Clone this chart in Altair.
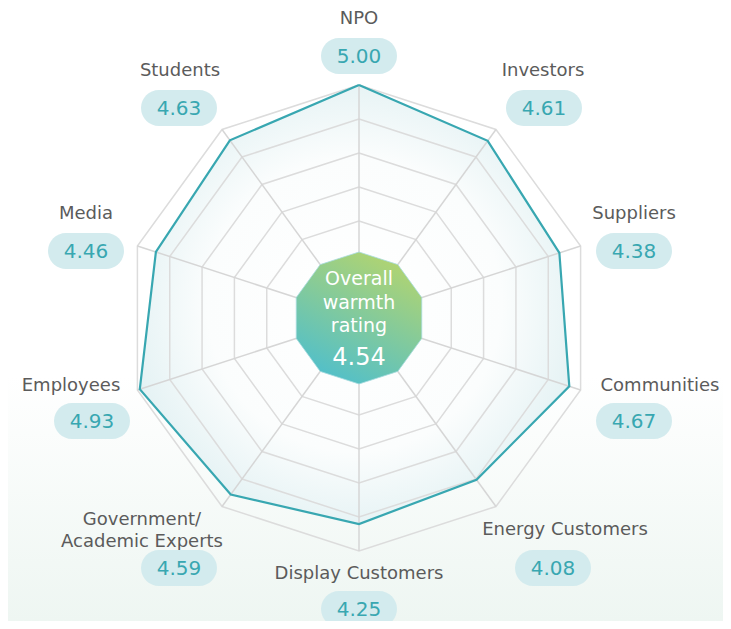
import numpy as np
import pandas as pd
import altair as alt

# ---------------- data ----------------
categories = ["NPO", "Investors", "Suppliers", "Communities", "Energy Customers",
              "Display Customers", "Government/\nAcademic Experts", "Employees",
              "Media", "Students"]
values = [5.00, 4.61, 4.38, 4.67, 4.08, 4.25, 4.59, 4.93, 4.46, 4.63]
overall_rating = 4.54
center_words = ["Overall", "warmth", "rating"]

# ---------------- layout ----------------
W, H = 715, 613
CX, CY = 351, 310
R_OUT = 233          # radius of the outer ring (value 5)
R_IN = 63            # radius of the centre decagon
K = 36               # pixels per rating unit near the rim
N_RINGS = 5
# label block offsets from the centre (name centre, badge centre)
NAME_OFF = [(0, -300), (184, -248), (275, -105), (301, 67), (206, 211),
            (0, 255), (-217, 201), (-288, 67), (-273, -105), (-179, -248)]
BADGE_OFF = [(0, -262), (185, -210), (275, -67), (275, 103), (194, 250),
             (0, 291), (-180, 250), (-267, 103), (-273, -67), (-180, -210)]
BADGE_W, BADGE_H = 76, 36

TEAL = "#38a7b1"
NAME_COL = "#5b5b5b"
FONT = "DejaVu Sans"

n = len(categories)
ang = np.arange(n) * 2 * np.pi / n


def polygon(radii, key):
    idx = list(range(n)) + [0]
    return pd.DataFrame({
        "x": [CX + radii[i] * np.sin(ang[i]) for i in idx],
        "y": [CY - radii[i] * np.cos(ang[i]) for i in idx],
        "order": list(range(n + 1)),
        "key": key,
    })


xs = alt.Scale(domain=[0, W], nice=False, zero=False)
ys = alt.Scale(domain=[0, H], nice=False, zero=False, reverse=True)
X = lambda f="x": alt.X(f"{f}:Q", scale=xs, axis=None)
Y = lambda f="y": alt.Y(f"{f}:Q", scale=ys, axis=None)

# background
bg_df = pd.DataFrame({"x": [0], "x2": [W], "y": [0], "y2": [H]})
bg = alt.Chart(bg_df).mark_rect(fill={
    "gradient": "linear", "x1": 0, "y1": 0, "x2": 0, "y2": 1,
    "stops": [{"offset": 0, "color": "#ffffff"},
              {"offset": 0.6, "color": "#ffffff"},
              {"offset": 1, "color": "#eef6f2"}]}).encode(
    x=X(), x2="x2:Q", y=Y(), y2="y2:Q")

# data polygon
data_r = [R_OUT - (5 - v) * K for v in values]
data_df = polygon(data_r, "data")
data_fill = alt.Chart(data_df).mark_line(
    fill={"gradient": "radial", "x1": 0.5, "y1": 0.5, "r1": 0,
          "x2": 0.5, "y2": 0.5, "r2": 0.56,
          "stops": [{"offset": 0, "color": "#ffffff"},
                    {"offset": 0.6, "color": "#fbfdfd"},
                    {"offset": 1, "color": "#e0f0f2"}]},
    strokeOpacity=0).encode(x=X(), y=Y(), order="order:Q")

# rings
ring_df = pd.concat([polygon([R_IN + (R_OUT - R_IN) * (i + 1) / N_RINGS] * n, f"r{i}")
                     for i in range(N_RINGS)])
rings = alt.Chart(ring_df).mark_line(color="#dcdcdc", strokeWidth=1.5).encode(
    x=X(), y=Y(), order="order:Q", detail="key:N")

# spokes
spoke_df = pd.DataFrame({
    "x": CX + R_IN * np.sin(ang), "y": CY - R_IN * np.cos(ang),
    "x2": CX + R_OUT * np.sin(ang), "y2": CY - R_OUT * np.cos(ang)})
spokes = alt.Chart(spoke_df).mark_rule(color="#d6d6d6", strokeWidth=1.5).encode(
    x=X(), y=Y(), x2="x2:Q", y2="y2:Q")

data_line = alt.Chart(data_df).mark_line(color=TEAL, strokeWidth=2.2).encode(
    x=X(), y=Y(), order="order:Q")

# centre decagon
center_df = polygon([R_IN + 3] * n, "c")
center = alt.Chart(center_df).mark_line(
    fill={"gradient": "linear", "x1": 0.8, "y1": 0.0, "x2": 0.3, "y2": 1.0,
          "stops": [{"offset": 0, "color": "#b6d56c"},
                    {"offset": 1, "color": "#50bfcb"}]},
    stroke="#a8dce0", strokeWidth=0.8).encode(x=X(), y=Y(), order="order:Q")

ct_df = pd.DataFrame({"t": center_words, "x": [CX] * 3,
                      "y": [CY - 33, CY - 9, CY + 14]})
center_text = alt.Chart(ct_df).mark_text(
    font=FONT, fontSize=19, color="white", baseline="alphabetic").encode(
    x=X(), y=Y(), text="t:N")
cv_df = pd.DataFrame({"t": [f"{overall_rating:.2f}"], "x": [CX], "y": [CY + 47]})
center_val = alt.Chart(cv_df).mark_text(
    font=FONT, fontSize=24, color="white", baseline="alphabetic").encode(
    x=X(), y=Y(), text="t:N")

# labels
lab_df = pd.DataFrame({
    "name": categories,
    "val": [f"{v:.2f}" for v in values],
    "nx": [CX + o[0] for o in NAME_OFF], "ny": [CY + o[1] + 1 for o in NAME_OFF],
    "bx": [CX + o[0] for o in BADGE_OFF], "by": [CY + o[1] for o in BADGE_OFF],
})
lab_df["bx1"] = lab_df["bx"] - BADGE_W / 2
lab_df["bx2"] = lab_df["bx"] + BADGE_W / 2
lab_df["by1"] = lab_df["by"] - BADGE_H / 2
lab_df["by2"] = lab_df["by"] + BADGE_H / 2
lab_df["ty"] = lab_df["by"] + 1

names = alt.Chart(lab_df).mark_text(
    font=FONT, fontSize=18, color=NAME_COL, baseline="middle",
    lineBreak="\n", lineHeight=22).encode(x=X("nx"), y=Y("ny"), text="name:N")
badges = alt.Chart(lab_df).mark_rect(color="#d3ebee", cornerRadius=18).encode(
    x=X("bx1"), x2="bx2:Q", y=Y("by1"), y2="by2:Q")
badge_text = alt.Chart(lab_df).mark_text(
    font=FONT, fontSize=20, color=TEAL, baseline="middle").encode(
    x=X("bx"), y=Y("ty"), text="val:N")

chart = alt.layer(
    bg, data_fill, rings, spokes, data_line, center, center_text, center_val,
    names, badges, badge_text
).properties(
    width=W, height=H, padding=0,
    autosize=alt.AutoSizeParams(type="none")
).configure_view(stroke=None)

chart.save("out.html", embed_options={"renderer": "svg", "actions": False})
